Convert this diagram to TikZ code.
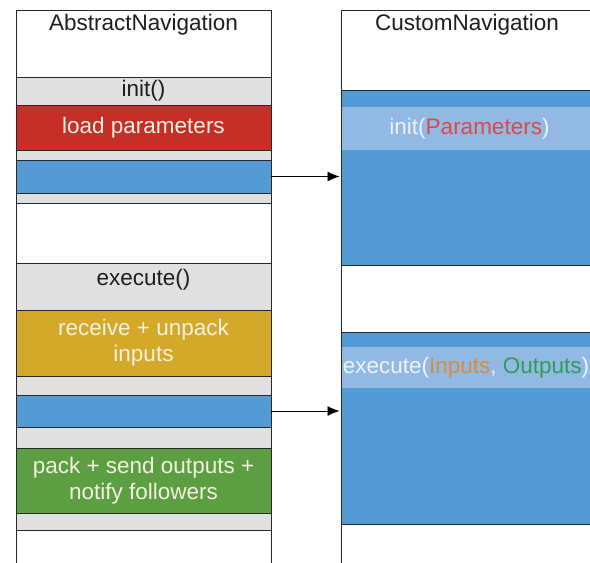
\documentclass[tikz,border=0pt]{standalone}
\usepackage{fontspec}
\setmainfont{Liberation Sans}
\usetikzlibrary{arrows.meta}
\definecolor{linec}{RGB}{40,40,40}
\definecolor{grayc}{RGB}{224,224,224}
\definecolor{bluec}{RGB}{84,155,214}
\definecolor{bandc}{RGB}{145,185,227}
\definecolor{redc}{RGB}{198,47,40}
\definecolor{yellowc}{RGB}{212,169,42}
\definecolor{greenc}{RGB}{91,159,66}
\definecolor{lightt}{RGB}{245,240,224}
\definecolor{wt}{RGB}{238,243,250}
\definecolor{redt}{RGB}{226,70,70}
\definecolor{oranget}{RGB}{217,140,58}
\definecolor{greent}{RGB}{46,158,85}
\definecolor{darkt}{RGB}{30,30,30}
\begin{document}
\begin{tikzpicture}[x=1pt,y=-1pt,
  box/.style={draw=linec, line width=0.9pt, anchor=north west, minimum width=255pt,
    inner sep=0pt, outer sep=0pt, font=\fontsize{22.5}{26}\selectfont, align=center, text=darkt},
  band/.style={fill=bandc, anchor=north west, minimum width=256pt, inner sep=0pt,
    outer sep=0pt, font=\fontsize{22.5}{26}\selectfont},
  lbl/.style={font=\fontsize{22.5}{26}\selectfont, text=darkt, inner sep=0pt},
  arr/.style={draw=black, line width=0.9pt, -{Latex[length=12pt,width=10pt]}, shorten >=1.5pt}]
\useasboundingbox (0,0) rectangle (590,563);
% left column
\node[box, minimum height=67] (atitle) at (16,10) {};
\node[lbl] (atitleT) at (143.5,25) {AbstractNavigation};
\node[box, fill=grayc, minimum height=28] (ainit) at (16,77) {init()};
\node[box, fill=redc, text=lightt, minimum height=45] (aload) at (16,105) {load parameters};
\node[box, fill=grayc, minimum height=10] (ag1) at (16,150) {};
\node[box, fill=bluec, minimum height=33] (ablue1) at (16,160) {};
\node[box, fill=grayc, minimum height=10] (ag2) at (16,193) {};
\node[box, minimum height=60] (aw1) at (16,203) {};
\node[box, fill=grayc, minimum height=47] (aexec) at (16,263) {};
\node[lbl] (aexecT) at (143.5,280) {execute()};
\node[box, fill=yellowc, text=lightt, minimum height=66] (arecv) at (16,310) {receive + unpack\\inputs};
\node[box, fill=grayc, minimum height=19] (ag3) at (16,376) {};
\node[box, fill=bluec, minimum height=32] (ablue2) at (16,395) {};
\node[box, fill=grayc, minimum height=21] (ag4) at (16,427) {};
\node[box, fill=greenc, text=lightt, minimum height=65] (apack) at (16,448) {pack + send outputs +\\notify followers};
\node[box, fill=grayc, minimum height=17] (ag5) at (16,513) {};
\node[box, minimum height=50] (aw2) at (16,530) {};
% right column
\node[box, minimum height=80] (ctitle) at (341,10) {};
\node[lbl] (ctitleT) at (467,25) {CustomNavigation};
\node[box, fill=bluec, minimum height=175] (cinit) at (341,90) {};
\node[band, minimum height=43] (cinitband) at (341.5,107) {\textcolor{wt}{init(}\textcolor{redt}{Parameters}\textcolor{wt}{)}};
\node[box, minimum height=67] (cw1) at (341,265) {};
\node[box, fill=bluec, minimum height=192] (cexec) at (341,332) {};
\node[band, minimum height=41, minimum width=249pt] (cexecband) at (341.5,347) {\textcolor{wt}{execute(}\textcolor{oranget}{Inputs}\textcolor{wt}{, }\textcolor{greent}{Outputs}\textcolor{wt}{)}};
\fill[bandc] (cexecband.north east) rectangle (600,388);
\node[box, minimum height=50] (cw2) at (341,524) {};
% connectors
\draw[arr] (ablue1.east) -- (ablue1.east -| cinit.west);
\draw[arr] (ablue2.east) -- (ablue2.east -| cexec.west);
\end{tikzpicture}
\end{document}
